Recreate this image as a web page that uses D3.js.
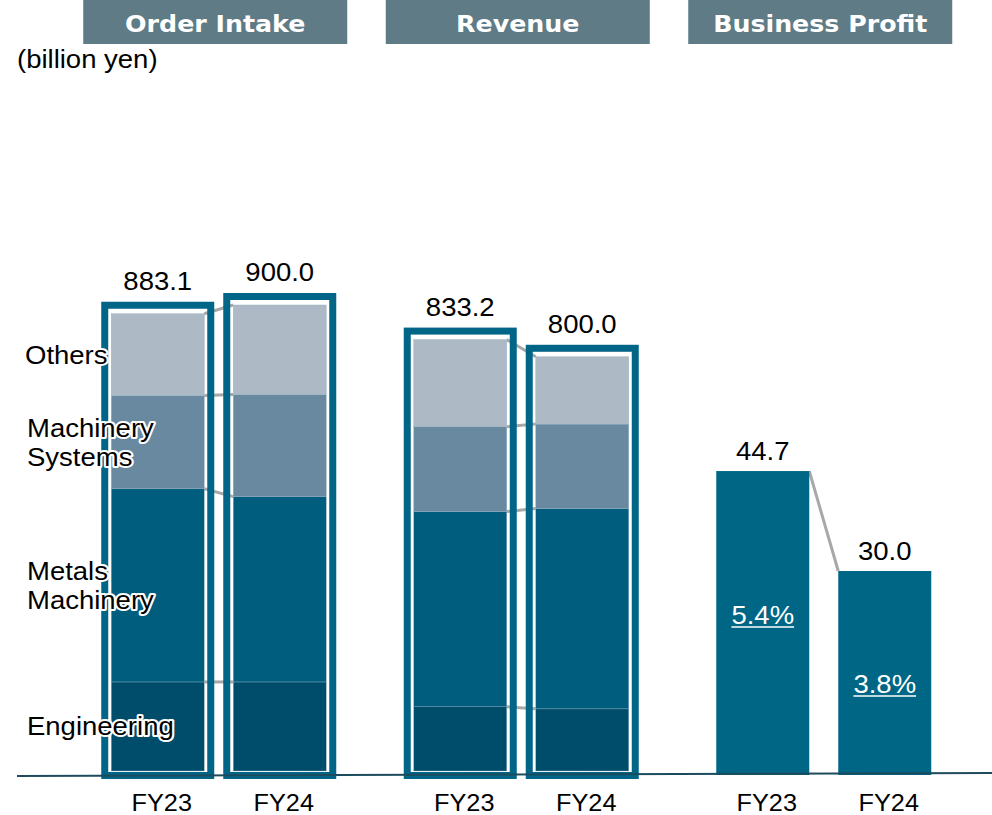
<!DOCTYPE html>
<html>
<head>
<meta charset="utf-8">
<script src="https://cdn.jsdelivr.net/npm/d3@7"></script>
<style>
  html, body { margin: 0; padding: 0; background: #fff; }
  svg { display: block; }
</style>
</head>
<body>
<svg id="chart" width="992" height="815"></svg>
<script>
// ---------------- data ----------------
const groups = ["Order Intake", "Revenue", "Business Profit"];
const years = ["FY23", "FY24"];
const segments = ["Engineering", "Metals Machinery", "Machinery Systems", "Others"];
const segmentLabels = [["Engineering"], ["Metals", "Machinery"], ["Machinery", "Systems"], ["Others"]];

// stacked values [Engineering, Metals Machinery, Machinery Systems, Others]
const orderIntakeFY23 = [172, 373, 180, 158.1];
const orderIntakeFY24 = [172, 358, 197, 173];
const revenueFY23 = [124, 377, 164, 168.2];
const revenueFY24 = [120, 387, 163, 130];

const orderIntakeTotals = [883.1, 900.0];
const revenueTotals = [833.2, 800.0];
const businessProfit = [44.7, 30.0];
const profitMargin = ["5.4%", "3.8%"];
const unitLabel = "(billion yen)";

// ---------------- layout / style ----------------
const segColors = ["#004d6b", "#005d7e", "#6889a0", "#adb9c5"];
const outlineColor = "#006587";
const profitColor = "#006685";
const headerColor = "#5e7b86";
const connectorColor = "#a8a8a8";
const SX = 1.1; // horizontal text stretch of the reference
const pctBaseline = [624, 693];
const baseFont = "'Liberation Sans', Arial, sans-serif";
const headFont = "'DejaVu Sans', Verdana, sans-serif";

const svg = d3.select("#chart");

const xGroup = d3.scaleBand().domain(groups).range([67.5, 975]);
const xYear = d3.scaleBand().domain(years).range([-122, 122]).paddingInner(0.2377).paddingOuter(0.2377 / 2);
const bw = xYear.bandwidth();
const barX = (g, y) => xGroup(g) + xGroup.bandwidth() / 2 + xYear(y);

const yStack = d3.scaleLinear().domain([0, 900]).range([771, 305]);
const yProfit = d3.scaleLinear().domain([0, 50]).range([775, 435]);

function stretchedText(parent, x, y, str, opts) {
  const g = parent.append("g").attr("transform", `translate(${x},${y}) scale(${SX},1)`);
  const t = g.append("text")
    .attr("text-anchor", opts.anchor || "middle")
    .style("font-family", opts.family || baseFont)
    .style("font-size", opts.size + "px")
    .style("font-weight", opts.weight || "normal")
    .attr("fill", opts.fill || "#000")
    .text(str);
  if (opts.halo) {
    t.attr("stroke", "#fff").attr("stroke-width", 4).attr("stroke-linejoin", "round").attr("paint-order", "stroke");
  }
  return { g, t };
}

// headers
groups.forEach(g => {
  const cx = xGroup(g) + xGroup.bandwidth() / 2 - 3.5;
  svg.append("rect").attr("x", cx - 132).attr("y", 0).attr("width", 264).attr("height", 44).attr("fill", headerColor);
  stretchedText(svg, cx, 32, g, { size: 23, fill: "#fff", weight: "bold", family: headFont });
});

stretchedText(svg, 17, 68, unitLabel, { size: 25, anchor: "start" });

// stacked groups
const stackedData = [
  { group: "Order Intake", series: [orderIntakeFY23, orderIntakeFY24], totals: orderIntakeTotals },
  { group: "Revenue", series: [revenueFY23, revenueFY24], totals: revenueTotals }
];

const connLayer = svg.append("g");
const barLayer = svg.append("g");
const outlineLayer = svg.append("g");

stackedData.forEach(d => {
  const stacks = d.series.map(vals => {
    let acc = 0;
    return vals.map(v => { const s = { y0: acc, y1: acc + v }; acc += v; return s; });
  });
  const x1 = barX(d.group, years[0]) + bw;
  const x2 = barX(d.group, years[1]);
  for (let k = 0; k < segments.length; k++) {
    connLayer.append("line")
      .attr("x1", x1).attr("y1", yStack(stacks[0][k].y1))
      .attr("x2", x2).attr("y2", yStack(stacks[1][k].y1))
      .attr("stroke", connectorColor).attr("stroke-width", 3);
  }
  years.forEach((yr, i) => {
    const x = barX(d.group, yr);
    barLayer.selectAll(null).data(stacks[i]).join("rect")
      .attr("x", x).attr("width", bw)
      .attr("y", s => yStack(s.y1))
      .attr("height", s => yStack(s.y0) - yStack(s.y1))
      .attr("fill", (s, k) => segColors[k])
      .attr("stroke", "#8fb0c2").attr("stroke-width", 0.4);
    const top = yStack(d3.sum(d.series[i]));
    outlineLayer.append("rect")
      .attr("x", x - 6.5).attr("width", bw + 13)
      .attr("y", top - 8.5).attr("height", yStack(0) - top + 13)
      .attr("fill", "none").attr("stroke", outlineColor).attr("stroke-width", 7);
    stretchedText(svg, x + bw / 2, top - 24, d.totals[i].toFixed(1), { size: 25 });
  });
});

// business profit
svg.append("line")
  .attr("x1", barX("Business Profit", years[0]) + bw).attr("y1", yProfit(businessProfit[0]))
  .attr("x2", barX("Business Profit", years[1])).attr("y2", yProfit(businessProfit[1]))
  .attr("stroke", connectorColor).attr("stroke-width", 3);

years.forEach((yr, i) => {
  const x = barX("Business Profit", yr);
  svg.append("rect")
    .attr("x", x).attr("width", bw)
    .attr("y", yProfit(businessProfit[i]))
    .attr("height", yProfit(0) - yProfit(businessProfit[i]))
    .attr("fill", profitColor);
  stretchedText(svg, x + bw / 2, yProfit(businessProfit[i]) - 11, businessProfit[i].toFixed(1), { size: 25 });
  const lab = stretchedText(svg, x + bw / 2, pctBaseline[i], profitMargin[i], { size: 25, fill: "#fff" });
  const w = lab.t.node().getComputedTextLength();
  lab.g.append("line").attr("x1", -w / 2).attr("x2", w / 2).attr("y1", 3).attr("y2", 3)
    .attr("stroke", "#fff").attr("stroke-width", 1.5);
});

// baseline
svg.append("line").attr("x1", 17).attr("y1", 776).attr("x2", 992).attr("y2", 773)
  .attr("stroke", "#1d4b5e").attr("stroke-width", 2);

// x labels
groups.forEach(g => years.forEach(yr => {
  stretchedText(svg, barX(g, yr) + bw / 2 + 4, 811, yr, { size: 23 });
}));

// segment labels (against FY23 order intake bar)
let acc = 0;
orderIntakeFY23.forEach((v, k) => {
  const mid = yStack(acc + v / 2);
  acc += v;
  const lines = segmentLabels[k];
  lines.forEach((ln, j) => {
    const yb = mid + 9 + (j - (lines.length - 1) / 2) * 29;
    stretchedText(svg, k === 3 ? 25 : 27, yb, ln, { size: 25, anchor: "start", halo: true });
  });
});
</script>
</body>
</html>
